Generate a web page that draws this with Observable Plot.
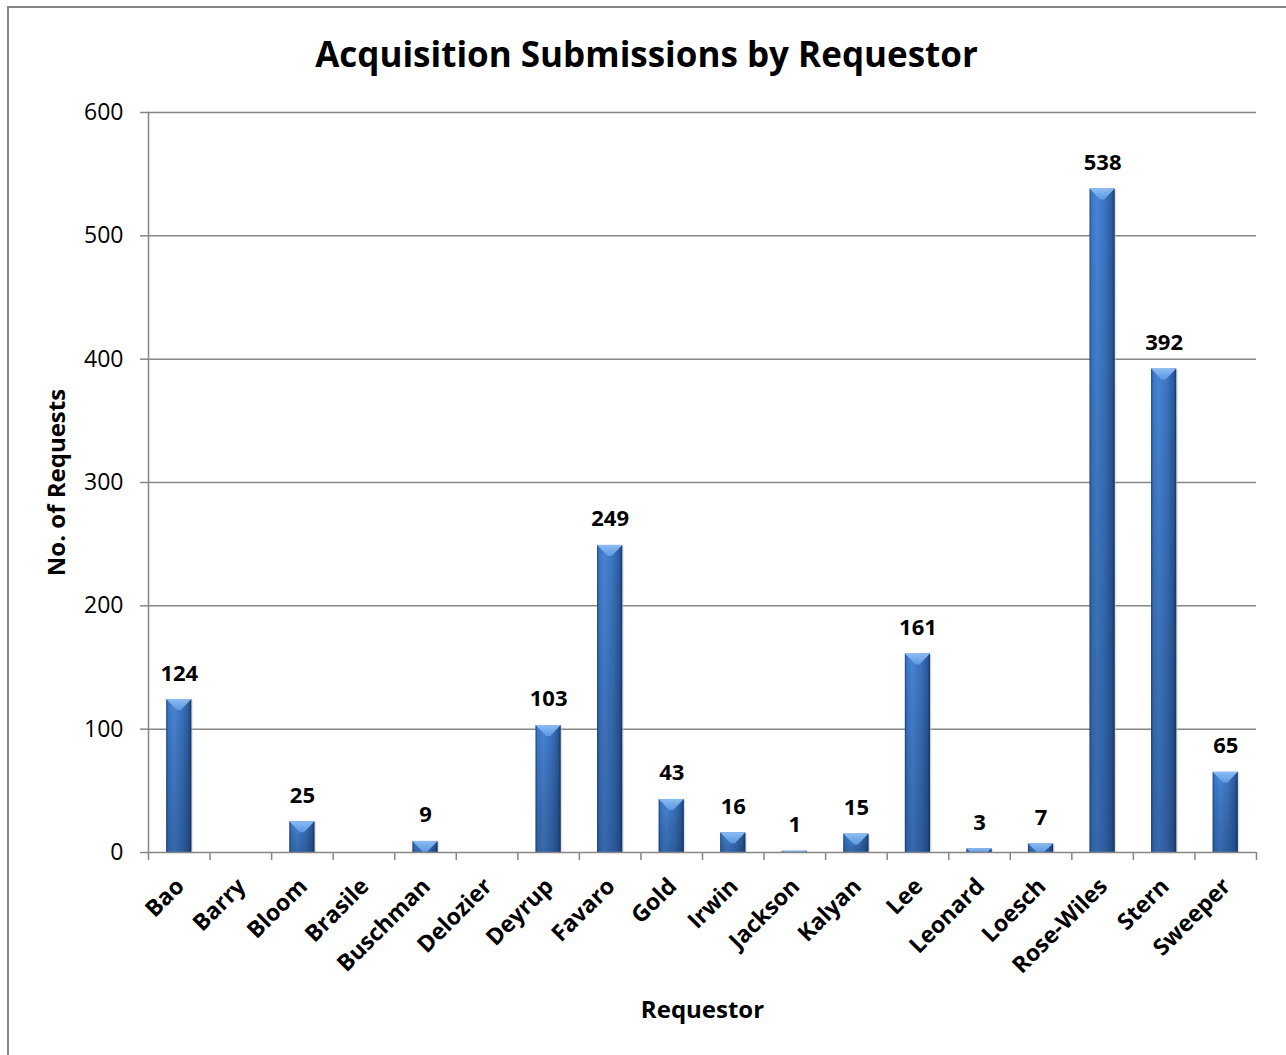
<!DOCTYPE html>
<html>
<head>
<meta charset="utf-8">
<script src="https://cdn.jsdelivr.net/npm/d3@7"></script>
<script src="https://cdn.jsdelivr.net/npm/@observablehq/plot@0.6"></script>
<style>
  html, body { margin: 0; padding: 0; background: #fff; overflow: hidden; }
  #wrap { position: relative; width: 1286px; height: 1055px; overflow: hidden; }
  #border { position: absolute; left: 7px; top: 6px; width: 1400px; height: 1200px; border: 2px solid #868686; box-sizing: border-box; }
  #chart { position: absolute; left: 0; top: 0; }
</style>
</head>
<body>
<svg width="0" height="0" style="position:absolute">
  <defs>
    <linearGradient id="barGrad" x1="0" y1="0" x2="1" y2="0">
      <stop offset="0%" stop-color="#1d4479"/>
      <stop offset="8%" stop-color="#3b77c6"/>
      <stop offset="30%" stop-color="#4785d6"/>
      <stop offset="65%" stop-color="#3a72bd"/>
      <stop offset="90%" stop-color="#2a5a9c"/>
      <stop offset="100%" stop-color="#163563"/>
    </linearGradient>
    <linearGradient id="shadeGrad" x1="0" y1="0" x2="0" y2="1">
      <stop offset="0%" stop-color="#000" stop-opacity="0"/>
      <stop offset="100%" stop-color="#0a1f45" stop-opacity="0.28"/>
    </linearGradient>
    <linearGradient id="bevelGrad" x1="0" y1="0" x2="0" y2="1">
      <stop offset="0%" stop-color="#8cbcf2"/>
      <stop offset="100%" stop-color="#5c98e2"/>
    </linearGradient>
  </defs>
</svg>
<div id="wrap">
  <div id="border"></div>
  <div id="chart"></div>
</div>
<script>
const requestors = ["Bao","Barry","Bloom","Brasile","Buschman","Delozier","Deyrup","Favaro","Gold","Irwin","Jackson","Kalyan","Lee","Leonard","Loesch","Rose-Wiles","Stern","Sweeper"];
const requests = [124, null, 25, null, 9, null, 103, 249, 43, 16, 1, 15, 161, 3, 7, 538, 392, 65];
const yTicks = [0, 100, 200, 300, 400, 500, 600];
const chartTitle = "Acquisition Submissions by Requestor";
const xTitle = "Requestor";
const yTitle = "No. of Requests";

const data = requestors.map((name, i) => ({name, value: requests[i]}));
const filled = data.filter(d => d.value != null && d.value > 0);

const W = 1286, H = 1055, mL = 148, mR = 30, mT = 112, mB = 203;
const step = (W - mL - mR) / requestors.length;
const gray = "#868686";
const font = "'Open Sans', sans-serif";

function bevel(index, scales) {
  const g = d3.create("svg:g");
  const x = scales.x, y = scales.y;
  const bw = x.bandwidth ? x.bandwidth() : step * 0.41;
  for (const d of filled) {
    const x0 = x(d.name), x1 = x0 + bw;
    const yt = y(d.value), yb = y(0);
    const h = Math.min(11, yb - yt);
    const inset = Math.min(bw / 2 - 2, h * 1.05);
    g.append("path")
      .attr("d", `M${x0},${yt}L${x1},${yt}L${x1 - inset},${yt + h}L${x0 + inset},${yt + h}Z`)
      .attr("fill", "url(#bevelGrad)");
  }
  return g.node();
}

const plot = Plot.plot({
  width: W, height: H,
  marginLeft: mL, marginRight: mR, marginTop: mT, marginBottom: mB,
  style: {fontFamily: font, background: "transparent", overflow: "visible", color: "#000"},
  x: {domain: requestors, paddingInner: 0.59, paddingOuter: 0.295, round: false, axis: null},
  y: {domain: [0, 600], axis: null},
  marks: [
    Plot.ruleY(yTicks.filter(t => t > 0), {stroke: gray, strokeWidth: 1.5}),
    Plot.barY(filled, {x: "name", y: "value", fill: "#bfc6d0", dx: 1.5, dy: 1, opacity: 0.5}),
    Plot.barY(filled, {x: "name", y: "value", fill: "url(#barGrad)"}),
    Plot.barY(filled, {x: "name", y: "value", fill: "url(#shadeGrad)"}),
    bevel,
    Plot.ruleY([0], {stroke: gray, strokeWidth: 1.5}),
    Plot.frame({anchor: "left", stroke: gray, strokeWidth: 1.5}),
    Plot.axisY({ticks: yTicks, tickSize: 8, tickPadding: 17, fontSize: 23, stroke: gray, fill: "#000", strokeWidth: 1.5, label: null}),
    Plot.ruleX(requestors, {x: d => d, dx: -step / 2, stroke: gray, strokeWidth: 1.5, insetTop: H - mT - mB, insetBottom: -8}),
    Plot.ruleX([requestors[requestors.length - 1]], {x: d => d, dx: step / 2, stroke: gray, strokeWidth: 1.5, insetTop: H - mT - mB, insetBottom: -8}),
    Plot.text(filled, {x: "name", y: "value", text: d => String(d.value), dy: -19, lineAnchor: "bottom", fontWeight: "bold", fontSize: 22, fill: "#000"}),
    Plot.text(requestors, {x: d => d, frameAnchor: "bottom", text: d => d, dx: 1, dy: 30, rotate: -45, textAnchor: "end", lineAnchor: "middle", fontWeight: "bold", fontSize: 23, fill: "#000"}),
    Plot.text([xTitle], {frameAnchor: "bottom", text: d => d, dy: 158, lineAnchor: "middle", fontWeight: "bold", fontSize: 24, fill: "#000"}),
    Plot.text([yTitle], {frameAnchor: "left", text: d => d, dx: -91, rotate: -90, textAnchor: "middle", lineAnchor: "middle", fontWeight: "bold", fontSize: 24, fill: "#000"}),
    Plot.text([chartTitle], {frameAnchor: "top", text: d => d, dx: -56, dy: -57, lineAnchor: "middle", fontWeight: "bold", fontSize: 35, fill: "#000"})
  ]
});
document.getElementById("chart").appendChild(plot);
</script>
</body>
</html>
